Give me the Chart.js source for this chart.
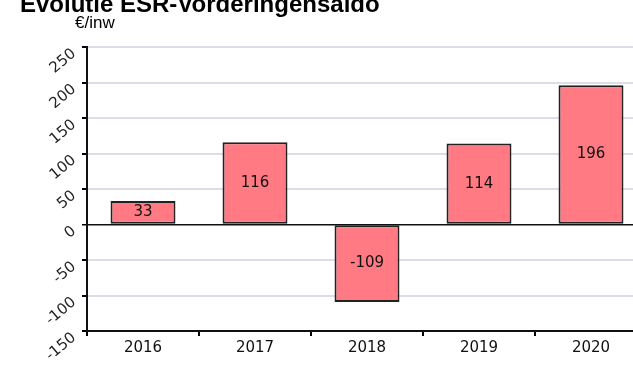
<!DOCTYPE html>
<html>
<head>
<meta charset="utf-8">
<style>
  html, body { margin: 0; padding: 0; overflow: hidden; background: #fff; }
  #wrap { position: absolute; left: 0; top: 0; width: 660px; height: 365px; }
</style>
</head>
<body>
<div id="wrap"><canvas id="grafiek" width="660" height="365"></canvas></div>
<script src="https://cdn.jsdelivr.net/npm/chart.js"></script>
<script>
    // Gegevens
    const jaren = ['2016', '2017', '2018', '2019', '2020'];
    const saldo = [33, 116, -109, 114, 196];
    const titel = 'Evolutie ESR-Vorderingensaldo';
    const eenheid = '€/inw';

    const tekstFont = '"DejaVu Sans", Verdana, sans-serif';

    // Titel en eenheid bovenaan
    const kopPlugin = {
        id: 'kop',
        afterDraw(chart) {
            const ctx = chart.ctx;
            ctx.save();
            ctx.fillStyle = '#000';
            ctx.textBaseline = 'alphabetic';
            ctx.textAlign = 'left';
            ctx.font = 'bold 24px "Liberation Sans", Arial, sans-serif';
            ctx.fillText(titel, 20, 12);
            ctx.font = '17px "Liberation Sans", Arial, sans-serif';
            ctx.fillText(eenheid, 75, 28);
            ctx.restore();
        }
    };

    // Waarde midden in elke staaf
    const waardePlugin = {
        id: 'waarden',
        afterDatasetsDraw(chart) {
            const ctx = chart.ctx;
            const meta = chart.getDatasetMeta(0);
            ctx.save();
            ctx.fillStyle = '#111';
            ctx.font = '15px ' + tekstFont;
            ctx.textAlign = 'center';
            ctx.textBaseline = 'middle';
            meta.data.forEach((bar, i) => {
                const midden = (bar.y + bar.base) / 2;
                ctx.fillText(String(saldo[i]), bar.x, midden);
            });
            ctx.restore();
        }
    };

    new Chart(document.getElementById('grafiek').getContext('2d'), {
        type: 'bar',
        data: {
            labels: jaren,
            datasets: [{
                data: saldo,
                backgroundColor: '#ff7a82',
                borderColor: '#222',
                borderWidth: 2,
                borderSkipped: false,
                barPercentage: 0.58,
                categoryPercentage: 1
            }]
        },
        options: {
            responsive: false,
            animation: false,
            devicePixelRatio: 1,
            layout: { padding: { top: 47, right: 13, left: 0, bottom: 0 } },
            plugins: {
                legend: { display: false },
                tooltip: { enabled: false },
                title: { display: false }
            },
            scales: {
                x: {
                    afterFit: (s) => { s.height = 34; },
                    grid: {
                        offset: true,
                        drawOnChartArea: false,
                        tickLength: 5,
                        tickColor: '#000',
                        lineWidth: 2
                    },
                    border: { color: '#111', width: 2 },
                    ticks: {
                        color: '#111',
                        font: { family: tekstFont, size: 15 },
                        padding: 3,
                        maxRotation: 0
                    }
                },
                y: {
                    min: -150,
                    max: 250,
                    afterFit: (s) => { s.width = 87; },
                    grid: {
                        color: (c) => c.tick && c.tick.value === 0 ? '#111' : '#dcdcea',
                        lineWidth: (c) => c.tick && c.tick.value === 0 ? 1.5 : 2,
                        tickLength: 5,
                        tickColor: '#000'
                    },
                    border: { color: '#111', width: 2 },
                    ticks: {
                        stepSize: 50,
                        color: '#222',
                        font: { family: tekstFont, size: 15 },
                        padding: 8,
                        labelOffset: 5,
                        minRotation: 40,
                        maxRotation: 40
                    }
                }
            }
        },
        plugins: [kopPlugin, waardePlugin]
    });
</script>
</body>
</html>
